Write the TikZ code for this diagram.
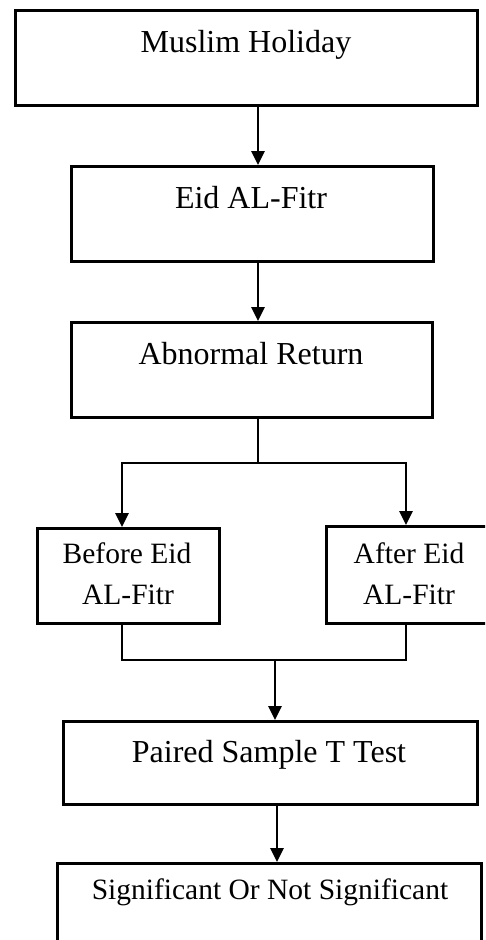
\documentclass[tikz,border=0pt]{standalone}
\usepackage{fontspec}
\setmainfont{Liberation Serif}
\usetikzlibrary{arrows.meta}
\tikzset{
  box/.style={draw, rectangle, line width=2.8pt, anchor=north west, inner sep=0pt},
  lbl/.style={anchor=base, inner sep=0pt, font=\fontsize{32}{38}\selectfont},
  lblsm/.style={lbl, font=\fontsize{29.5}{35}\selectfont},
  link/.style={line width=2.9pt, line join=miter},
  arr/.style={link, -{Triangle[length=14pt,width=13pt]}}
}
\begin{document}
\begin{tikzpicture}[x=1pt,y=-1pt]
\useasboundingbox (0,0) rectangle (485,940);
\fill[white] (0,0) rectangle (485,940);
\clip (0,0) rectangle (485,940);

% boxes
\node[box, minimum width=462pt, minimum height=95pt] (b1) at (14,9) {};
\node[box, minimum width=362pt, minimum height=95pt] (b2) at (70,165) {};
\node[box, minimum width=361pt, minimum height=95pt] (b3) at (70,321) {};
\node[box, minimum width=182pt, minimum height=95pt] (bef) at (36,527) {};
\node[box, minimum width=180pt, minimum height=97pt] (aft) at (325,525) {};
\node[box, minimum width=414pt, minimum height=83pt] (pst) at (62,720) {};
\node[box, minimum width=424pt, minimum height=100pt] (sig) at (56,862) {};

% texts
\node[lbl] (t1) at (246,52) {Muslim Holiday};
\node[lbl] (t2) at (251,208) {Eid AL-Fitr};
\node[lbl] (t3) at (251,364) {Abnormal Return};
\node[lblsm] (t4a) at (127,563) {Before Eid};
\node[lblsm] (t4b) at (128,604) {AL-Fitr};
\node[lblsm] (t5a) at (409,563) {After Eid};
\node[lblsm] (t5b) at (409,604) {AL-Fitr};
\node[lbl] (t6) at (269,762) {Paired Sample T Test};
\node[lblsm] (t7) at (270,899) {Significant Or Not Significant};

% connector guides
\coordinate (s1) at (258,0);
\coordinate (fork) at (258,463);
\coordinate (lx) at (122,0);
\coordinate (rx) at (406,0);
\coordinate (join) at (275,660);
\coordinate (s2) at (277,0);

% connectors
\draw[arr] (b1.south -| s1) -- (b2.north -| s1);
\draw[arr] (b2.south -| s1) -- (b3.north -| s1);
\draw[link] (b3.south -| s1) -- (fork);
\draw[arr] (fork) -- (fork -| lx) -- (bef.north -| lx);
\draw[arr] (fork) -- (fork -| rx) -- (aft.north -| rx);
\draw[link] (bef.south -| lx) -- (join -| lx) -- (join -| rx) -- (aft.south -| rx);
\draw[arr] (join) -- (pst.north -| join);
\draw[arr] (pst.south -| s2) -- (sig.north -| s2);
\end{tikzpicture}
\end{document}
